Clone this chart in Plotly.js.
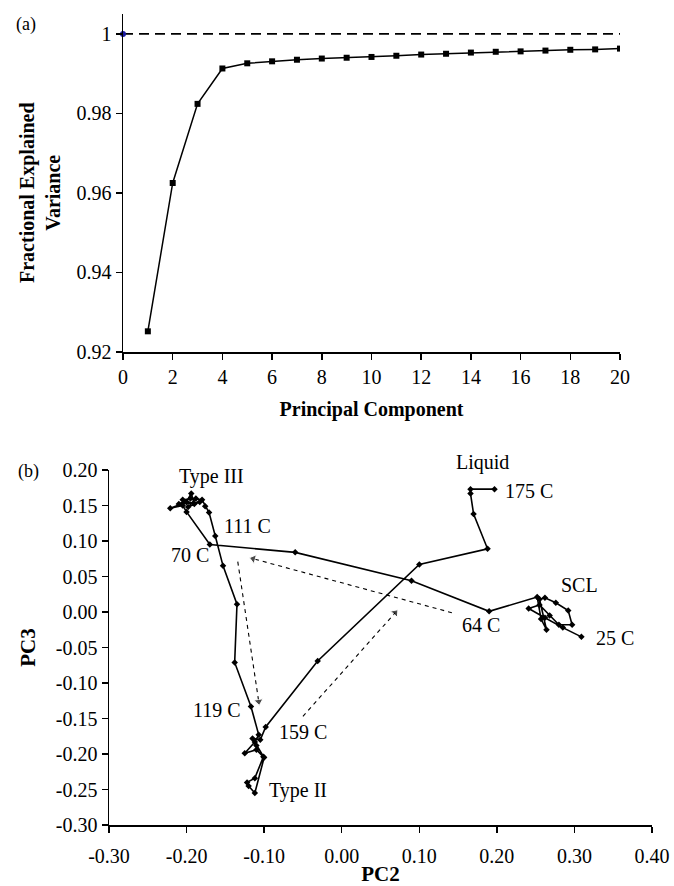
<!DOCTYPE html>
<html>
<head>
<meta charset="utf-8">
<script src="https://cdn.plot.ly/plotly-3.0.1.min.js"></script>
<style>html,body{margin:0;padding:0;background:#fff;}#chart{width:674px;height:886px;}</style>
</head>
<body>
<div id="chart"></div>
<script>
// ---------- Panel (a) data ----------
const principalComponent = [1,2,3,4,5,6,7,8,9,10,11,12,13,14,15,16,17,18,19,20];
const explainedVariance = [0.9252,0.9625,0.9824,0.9913,0.9926,0.9931,0.9935,0.9938,0.9940,0.9942,0.9945,0.9948,0.9950,0.9953,0.9955,0.9956,0.9958,0.9960,0.9961,0.9963];
const originX = [0];
const originY = [1];
const fullVarX = [0, 20];
const fullVarY = [1, 1];
const aXTicks = [0,2,4,6,8,10,12,14,16,18,20];
const aYTicks = [0.92,0.94,0.96,0.98,1];
const aYTickText = ['0.92','0.94','0.96','0.98','1'];

// ---------- Panel (b) data: PC2 / PC3 trajectory (25 C -> 175 C) ----------
const pc2 = [0.309,0.285,0.262,0.241,0.255,0.268,0.280,0.297,0.292,0.276,0.262,0.255,0.264,0.257,0.252,
             0.190,0.090,-0.060,-0.170,
             -0.200,-0.205,-0.221,-0.200,-0.194,-0.190,-0.205,-0.188,-0.198,-0.183,-0.210,-0.195,-0.180,-0.176,-0.171,
             -0.163,-0.153,-0.135,-0.138,-0.117,
             -0.107,-0.112,-0.125,-0.110,-0.101,-0.112,-0.122,-0.120,-0.112,-0.100,-0.110,-0.115,-0.105,
             -0.098,-0.031,0.100,0.188,0.170,0.166,0.166,0.197];
const pc3 = [-0.035,-0.022,-0.008,0.005,0.010,-0.005,-0.018,-0.018,0.002,0.013,0.020,0.018,-0.025,-0.010,0.021,
             0.001,0.044,0.084,0.095,
             0.141,0.150,0.146,0.155,0.167,0.152,0.158,0.160,0.148,0.155,0.152,0.160,0.158,0.149,0.140,
             0.107,0.065,0.011,-0.071,-0.133,
             -0.173,-0.183,-0.199,-0.194,-0.204,-0.234,-0.240,-0.245,-0.255,-0.205,-0.188,-0.178,-0.180,
             -0.162,-0.069,0.067,0.089,0.138,0.167,0.173,0.173];
const bXTicks = [-0.3,-0.2,-0.1,0,0.1,0.2,0.3,0.4];
const bXTickText = ['-0.30','-0.20','-0.10','0.00','0.10','0.20','0.30','0.40'];
const bYTicks = [-0.3,-0.25,-0.2,-0.15,-0.1,-0.05,0,0.05,0.1,0.15,0.2];
const bYTickText = ['-0.30','-0.25','-0.20','-0.15','-0.10','-0.05','0.00','0.05','0.10','0.15','0.20'];

// dashed guide arrows (start -> head)
const arrowX = [[0.142,-0.114],[-0.134,-0.107],[-0.050,0.069]];
const arrowY = [[-0.001,0.075],[0.071,-0.126],[-0.147,-0.001]];

// text labels
const labelText = ['Type III','111 C','70 C','Liquid','175 C','SCL','64 C','25 C','119 C','159 C','Type II'];
const labelX = [-0.168,-0.122,-0.196,0.181,0.242,0.307,0.180,0.352,-0.161,-0.050,-0.056];
const labelY = [0.191,0.121,0.080,0.1915,0.170,0.038,-0.018,-0.037,-0.138,-0.169,-0.251];
const labelAnchorY = ['middle','middle','middle','bottom','middle','middle','middle','middle','middle','middle','middle'];

const serif = 'Liberation Serif, Times New Roman, serif';
const W = 674, H = 886;
function dx(a,b){return [a/W,b/W];}
function dy(top,bottom){return [1-bottom/H,1-top/H];}

const traces = [
  {x: fullVarX, y: fullVarY, xaxis:'x', yaxis:'y', mode:'lines', line:{color:'#000', width:1.6, dash:'10px,6px'}, hoverinfo:'skip', showlegend:false},
  {x: principalComponent, y: explainedVariance, xaxis:'x', yaxis:'y', mode:'lines+markers',
   line:{color:'#000', width:1.5}, marker:{symbol:'square', size:6, color:'#000'}, showlegend:false},
  {x: originX, y: originY, xaxis:'x', yaxis:'y', mode:'markers', marker:{symbol:'circle', size:6, color:'#1a1aa0'}, showlegend:false, cliponaxis:false},
  {x: pc2, y: pc3, xaxis:'x2', yaxis:'y2', mode:'lines+markers',
   line:{color:'#000', width:1.6}, marker:{symbol:'diamond', size:5, color:'#000'}, showlegend:false}
];
arrowX.forEach((ax,i)=>{
  traces.push({x: ax, y: arrowY[i], xaxis:'x2', yaxis:'y2', mode:'lines+markers',
    line:{color:'#000', width:1.1, dash:'4px,4px'},
    marker:{symbol:'triangle-up', size:[0,8], angleref:'previous', color:'#000'},
    hoverinfo:'skip', showlegend:false});
});

const annotations = labelText.map((t,i)=>({text:t, x:labelX[i], y:labelY[i], xref:'x2', yref:'y2', yanchor:labelAnchorY[i],
  showarrow:false, font:{family:serif, size:20, color:'#000'}}));
annotations.push({text:'(a)', x:14/W, y:1-12/H, xref:'paper', yref:'paper', showarrow:false, font:{family:serif,size:18,color:'#000'}});
annotations.push({text:'(b)', x:16/W, y:1-471/H, xref:'paper', yref:'paper', showarrow:false, font:{family:serif,size:18,color:'#000'}});
annotations.push({text:'Fractional Explained<br>Variance', x:40/W, y:1-193/H, xref:'paper', yref:'paper', showarrow:false,
  xanchor:'center', yanchor:'middle', textangle:-90, font:{family:serif,size:20,color:'#000',weight:'bold'}});

const axisCommon = {showgrid:false, zeroline:false, showline:true, linecolor:'#000', linewidth:1.5,
  ticks:'outside', ticklen:6, tickwidth:1.5, tickcolor:'#000', tickfont:{family:serif, size:20, color:'#000'}, automargin:false};

const layout = {
  width: W, height: H, margin:{l:0,r:0,t:0,b:0}, paper_bgcolor:'#fff', plot_bgcolor:'#fff',
  showlegend:false,
  xaxis: Object.assign({}, axisCommon, {domain: dx(123,620), range:[0,20], tickvals:aXTicks, anchor:'y',
    title:{text:'Principal Component', font:{family:serif, size:20, color:'#000', weight:'bold'}, standoff:15}}),
  yaxis: Object.assign({}, axisCommon, {domain: dy(14,352), range:[0.92,1.005], tickvals:aYTicks, ticktext:aYTickText, anchor:'x'}),
  xaxis2: Object.assign({}, axisCommon, {domain: dx(109,652), range:[-0.3,0.4], tickvals:bXTicks, ticktext:bXTickText, anchor:'y2',
    ticklabelstandoff:6,
    title:{text:'PC2', font:{family:serif, size:21, color:'#000', weight:'bold'}, standoff:9}}),
  yaxis2: Object.assign({}, axisCommon, {domain: dy(470,825), range:[-0.3,0.2], tickvals:bYTicks, ticktext:bYTickText, anchor:'x2',
    title:{text:'PC3', font:{family:serif, size:21, color:'#000', weight:'bold'}, standoff:14}}),
  annotations: annotations
};

Plotly.newPlot('chart', traces, layout, {displayModeBar:false, staticPlot:true});
</script>
</body>
</html>
